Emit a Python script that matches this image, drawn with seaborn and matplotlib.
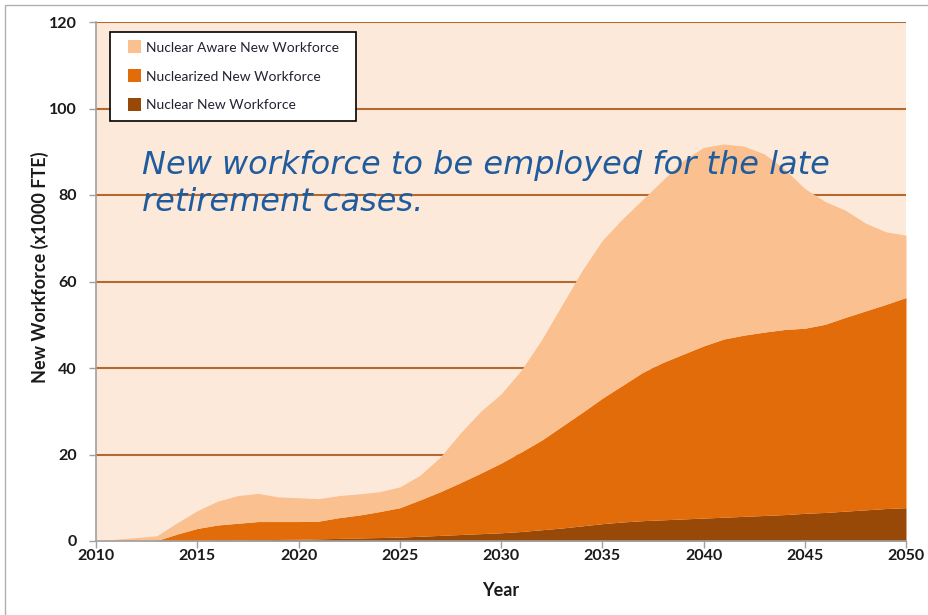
import matplotlib
matplotlib.use("Agg")
import matplotlib.pyplot as plt
import matplotlib.patches as mpatches
from matplotlib.legend_handler import HandlerPatch
import seaborn as sns
import pandas as pd

# Annual new workforce by category (x1000 FTE), late retirement cases
years = list(range(2010, 2051))
nuclear_new = [0, 0, 0, 0, 0, 0, 0.1, 0.2, 0.3, 0.35,
               0.4, 0.5, 0.6, 0.7, 0.8, 0.9, 1.1, 1.3, 1.5, 1.7,
               1.9, 2.2, 2.6, 3.0, 3.5, 4.0, 4.4, 4.7, 4.9, 5.1,
               5.3, 5.5, 5.7, 5.9, 6.1, 6.4, 6.6, 6.9, 7.2, 7.5, 7.7]
nuclearized_new = [0, 0, 0, 0.1, 1.6, 2.9, 3.6, 3.9, 4.2, 4.15,
                   4.1, 4.1, 4.8, 5.3, 6.0, 6.8, 8.4, 10.1, 12.0, 14.0,
                   16.1, 18.4, 20.7, 23.5, 26.2, 29.0, 31.6, 34.3, 36.4, 38.1,
                   39.8, 41.2, 41.9, 42.4, 42.8, 42.8, 43.5, 44.8, 46.0, 47.2, 48.6]
aware_new = [0, 0.4, 0.8, 1.1, 2.6, 4.1, 5.5, 6.4, 6.5, 5.7,
             5.5, 5.2, 5.1, 4.9, 4.6, 4.8, 5.7, 8.0, 11.5, 14.3,
             16.0, 18.9, 23.2, 28.0, 32.8, 36.5, 38.5, 40.0, 42.2, 44.8,
             45.9, 45.1, 43.7, 41.2, 37.1, 32.3, 28.4, 24.8, 20.3, 16.8, 14.4]

series_labels = ["Nuclear New Workforce", "Nuclearized New Workforce",
                 "Nuclear Aware New Workforce"]
series_colors = ["#984807", "#e36c0a", "#fac090"]
x_ticks = list(range(2010, 2051, 5))
y_ticks = list(range(0, 121, 20))

df = pd.DataFrame({"Year": years,
                   series_labels[0]: nuclear_new,
                   series_labels[1]: nuclearized_new,
                   series_labels[2]: aware_new})

sns.set_theme(style="white")
plt.rcParams["font.family"] = ["Lato", "DejaVu Sans"]

fig = plt.figure(figsize=(9.29, 6.15), dpi=100)
ax = fig.add_axes([96 / 929, 1 - 541 / 615, 810 / 929, 519 / 615])
ax.set_facecolor("#fde9d9")

# horizontal gridlines sit underneath the filled areas
for yv in y_ticks[1:]:
    ax.axhline(yv, color="#b5682f", lw=1.5, zorder=0.5)

ax.stackplot(df["Year"], df[series_labels[0]], df[series_labels[1]],
             df[series_labels[2]], colors=series_colors, labels=series_labels,
             linewidth=0, zorder=1)

ax.set_xlim(2010, 2050)
ax.set_ylim(0, 120)
ax.set_xticks(x_ticks)
ax.set_yticks(y_ticks)
ax.tick_params(axis="both", which="major", direction="out", length=5,
               width=1, color="#a0a0a0", labelsize=11.5, labelcolor="#1a1a1a",
               left=True, bottom=True)
ax.tick_params(axis="x", pad=1)
ax.tick_params(axis="y", pad=9)
for lbl in ax.get_xticklabels() + ax.get_yticklabels():
    lbl.set_fontweight("bold")

for side in ["top", "right"]:
    ax.spines[side].set_visible(False)
for side in ["left", "bottom"]:
    ax.spines[side].set_color("#a0a0a0")
    ax.spines[side].set_linewidth(1.2)

ax.set_xlabel("Year", fontsize=13, fontweight="bold", color="#1a1a1a",
              va="center")
ax.xaxis.set_label_coords(0.5, -0.0963)
ax.set_ylabel("New Workforce (x1000 FTE)", fontsize=13, fontweight="bold",
              color="#1a1a1a", va="center")
ax.yaxis.set_label_coords(-0.069, 0.528)


class SquareAtRight(HandlerPatch):
    """Small square legend key placed at the right end of the handle box."""

    def create_artists(self, legend, orig_handle, xdescent, ydescent,
                       width, height, fontsize, trans):
        size = 9.5
        p = mpatches.Rectangle((width - size - xdescent,
                                height / 2 - size / 2 - ydescent),
                               size, size, facecolor=orig_handle.get_facecolor(),
                               edgecolor="none", transform=trans)
        return [p]


handles = [mpatches.Patch(color=series_colors[i], label=series_labels[i])
           for i in (2, 1, 0)]
leg = ax.legend(handles=handles, loc="upper left",
                bbox_to_anchor=(0.0173, 0.5, 0.3037, 0.481), mode="expand",
                fontsize=10, frameon=True, fancybox=False, framealpha=1,
                edgecolor="black", borderpad=0.7, labelspacing=1.22,
                handlelength=1.55, handleheight=0.7, handletextpad=0.35,
                borderaxespad=0,
                handler_map={mpatches.Patch: SquareAtRight()})
leg.get_frame().set_linewidth(1.2)
leg.set_zorder(5)
for t in leg.get_texts():
    t.set_color("#222233")

ax.text(0.0568, 0.753,
        "New workforce to be employed for the late\nretirement cases.",
        transform=ax.transAxes, ha="left", va="top", fontsize=23,
        style="italic", color="#1f5c9e", family="DejaVu Sans",
        linespacing=1.23, zorder=6)

# thin frame around the figure
fig.patches.append(mpatches.Rectangle((5 / 929, -0.5), 2, 1.5 - 5 / 615,
                                      transform=fig.transFigure, fill=False,
                                      edgecolor="#b0b0b0", lw=1))

fig.savefig("out.png", dpi=100)
